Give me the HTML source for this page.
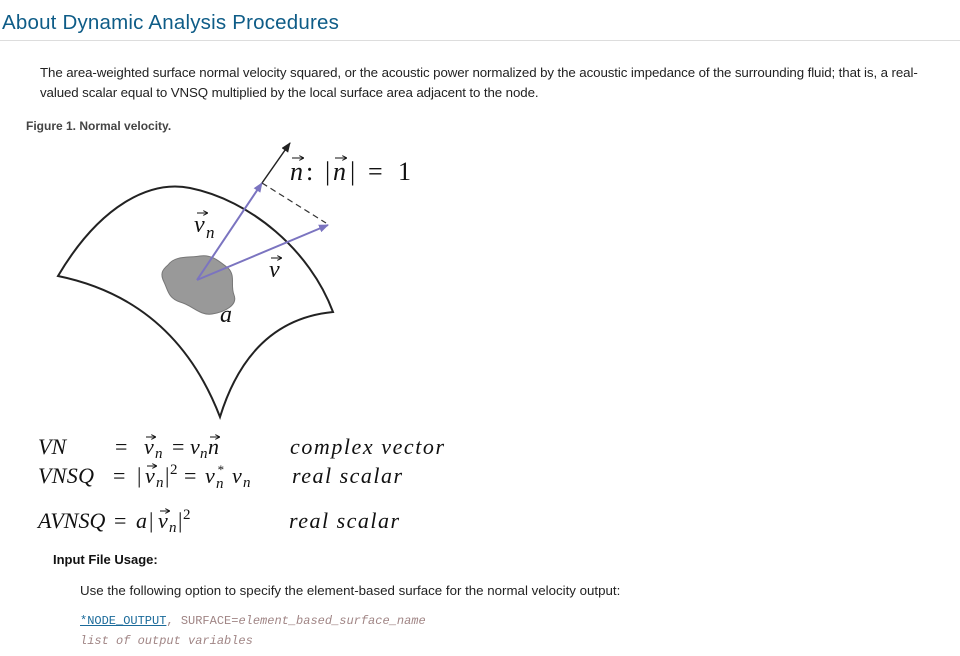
<!DOCTYPE html>
<html><head><meta charset="utf-8"><style>
body{margin:0;width:960px;height:656px;background:#fff;position:relative;font-family:"Liberation Sans",Arial,sans-serif;overflow:hidden}
.a{position:absolute;white-space:nowrap}
h1{position:absolute;left:2px;top:11px;margin:0;font-size:20.5px;font-weight:normal;color:#0e5c87;letter-spacing:0.2px}
.hr{position:absolute;left:0;top:40px;width:960px;height:1px;background:#ddd}
.t{font-size:13.3px;color:#222;line-height:20px}
code{font-family:"Liberation Mono",monospace;font-size:12px;color:#a08585}
</style></head><body>
<h1>About Dynamic Analysis Procedures</h1>
<div class="hr"></div>
<div class="a t" style="left:40px;top:63px;letter-spacing:-0.1px">The area-weighted surface normal velocity squared, or the acoustic power normalized by the acoustic impedance of the surrounding fluid; that is, a real-<br>valued scalar equal to VNSQ multiplied by the local surface area adjacent to the node.</div>
<div class="a" style="left:26px;top:119px;font-size:12px;font-weight:bold;color:#444">Figure 1. Normal velocity.</div>
<svg class="a" style="left:0;top:0" width="960" height="656">
<defs>
<marker id="pa" markerWidth="10" markerHeight="8" refX="9" refY="4" orient="auto" markerUnits="userSpaceOnUse"><path d="M0,0 L10,4 L0,8 z" fill="#7b74c0"/></marker>
<marker id="ka" markerWidth="10" markerHeight="8" refX="9" refY="4" orient="auto" markerUnits="userSpaceOnUse"><path d="M0,0 L10,4 L0,8 z" fill="#222"/></marker>
<marker id="sa" markerWidth="5" markerHeight="5" refX="4" refY="2.5" orient="auto" markerUnits="userSpaceOnUse"><path d="M0,0 L5,2.5 L0,5" fill="none" stroke="#111" stroke-width="1"/></marker>
</defs>
<path d="M58,276 C100,205 150,180 190,188 C250,200 310,250 333,312 Q250,320 220,417 Q175,300 58,276 Z" fill="#fff" stroke="#222" stroke-width="2"/>
<path d="M168,265 C175,255 190,258 200,256 C212,254 220,262 228,268 C236,276 230,285 234,295 C238,305 225,312 212,314 C200,316 192,305 180,302 C168,298 168,290 164,282 C160,274 162,270 168,265 Z" fill="#999" stroke="#777"/>
<line x1="262" y1="183" x2="290" y2="143" stroke="#222" stroke-width="1.5" marker-end="url(#ka)"/>
<line x1="197" y1="280" x2="262" y2="183" stroke="#7b74c0" stroke-width="2" marker-end="url(#pa)"/>
<line x1="197" y1="280" x2="328" y2="225" stroke="#7b74c0" stroke-width="2" marker-end="url(#pa)"/>
<line x1="262" y1="183" x2="326" y2="223" stroke="#333" stroke-width="1.2" stroke-dasharray="6,4"/>
<g stroke="#111" stroke-width="1" marker-end="url(#sa)">
<line x1="292" y1="158" x2="303" y2="158"/>
<line x1="335" y1="158" x2="346" y2="158"/>
<line x1="197" y1="213" x2="207" y2="213"/>
<line x1="271" y1="258" x2="281" y2="258"/>
<line x1="146" y1="437" x2="155" y2="437"/>
<line x1="210" y1="437" x2="219" y2="437"/>
<line x1="147" y1="466" x2="156" y2="466"/>
<line x1="160" y1="511" x2="169" y2="511"/>
</g>
<g font-family="'Liberation Serif','DejaVu Serif',serif" fill="#111">
<g font-size="26"><text x="290" y="180" font-style="italic">n</text><text x="306" y="180">:</text><text x="325" y="180">|</text><text x="333" y="180" font-style="italic">n</text><text x="350" y="180">|</text><text x="368" y="180">=</text><text x="398" y="180">1</text></g>
<text x="194" y="232" font-size="24" font-style="italic">v</text><text x="206" y="238" font-size="17" font-style="italic">n</text>
<text x="269" y="277" font-size="24" font-style="italic">v</text>
<text x="220" y="322" font-size="24" font-style="italic">a</text>
<g font-size="22">
<text x="38" y="454" font-style="italic">VN</text>
<text x="115" y="454">=</text><text x="144" y="454" font-style="italic">v</text><text x="155" y="458" font-size="15" font-style="italic">n</text>
<text x="172" y="454">=</text><text x="190" y="454" font-style="italic">v</text><text x="200" y="458" font-size="15" font-style="italic">n</text><text x="208" y="454" font-style="italic">n</text>
<text x="290" y="454" font-style="italic" textLength="154">complex vector</text>
<text x="38" y="483" font-style="italic" textLength="56">VNSQ</text>
<text x="113" y="483">=</text><text x="137" y="483">|</text><text x="145" y="483" font-style="italic">v</text><text x="156" y="487" font-size="15" font-style="italic">n</text><text x="165" y="483">|</text><text x="170" y="474" font-size="15">2</text>
<text x="184" y="483">=</text><text x="205" y="483" font-style="italic">v</text><text x="216" y="488" font-size="15" font-style="italic">n</text><text x="217" y="474" font-size="13" font-style="italic">*</text><text x="232" y="483" font-style="italic">v</text><text x="243" y="487" font-size="15" font-style="italic">n</text>
<text x="292" y="483" font-style="italic" textLength="110">real scalar</text>
<text x="38" y="528" font-style="italic">AVNSQ</text><text x="114" y="528">=</text><text x="136" y="528" font-style="italic">a</text><text x="149" y="528">|</text><text x="158" y="528" font-style="italic">v</text><text x="169" y="532" font-size="15" font-style="italic">n</text><text x="178" y="528">|</text><text x="183" y="519" font-size="15">2</text>
<text x="289" y="528" font-style="italic" textLength="110">real scalar</text>
</g></g>
</svg>
<div class="a" style="left:53px;top:552px;font-size:13px;font-weight:bold;color:#111">Input File Usage:</div>
<div class="a t" style="left:80px;top:581px">Use the following option to specify the element-based surface for the normal velocity output:</div>
<div class="a" style="left:80px;top:611px"><code><span style="color:#1a6a9a;text-decoration:underline">*NODE_OUTPUT</span>, SURFACE=<i>element_based_surface_name</i></code></div>
<div class="a" style="left:80px;top:631px"><code><i>list of output variables</i></code></div>
</body></html>
